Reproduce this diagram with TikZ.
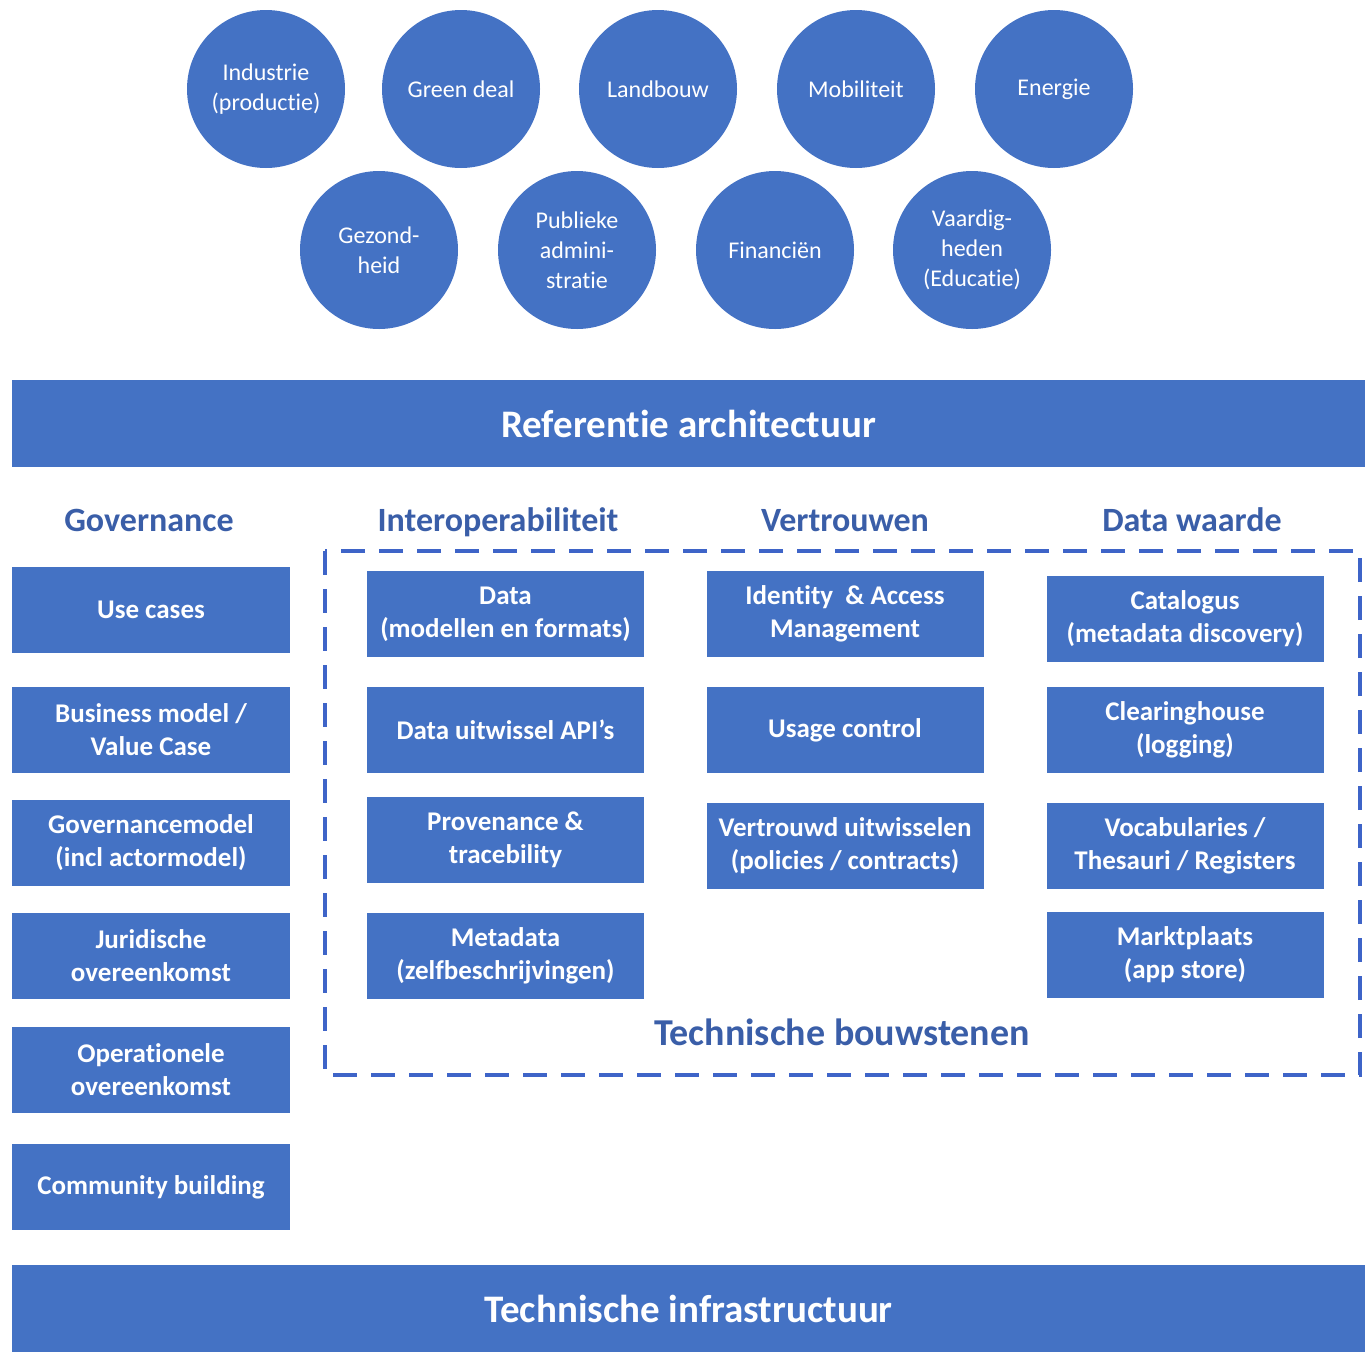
\documentclass[tikz,border=0pt]{standalone}
\usepackage{fontspec}
\setmainfont{Carlito}[Ligatures=NoCommon]
\definecolor{officeblue}{RGB}{68,114,196}
\definecolor{headblue}{RGB}{58,94,168}
\definecolor{dashblue}{RGB}{62,100,200}

\begin{document}
\begin{tikzpicture}[x=1pt,y=-1pt,
  sector/.style={circle,fill=officeblue,text=white,minimum size=158pt,inner sep=0pt,
    align=center,font=\fontsize{24}{30}\selectfont},
  banner/.style={rectangle,fill=officeblue,text=white,minimum width=1353pt,minimum height=87pt,
    inner sep=0pt,font=\bfseries\fontsize{39}{46}\selectfont},
  blok/.style={rectangle,fill=officeblue,text=white,minimum width=277pt,minimum height=86pt,
    inner sep=0pt,align=center,font=\bfseries\fontsize{27}{33}\selectfont},
  kop/.style={text=headblue,inner sep=0pt,anchor=base,font=\bfseries\fontsize{34}{40}\selectfont},
  bouwrand/.style={draw=dashblue,line width=3.2pt,dash pattern=on 24pt off 14pt}]
\useasboundingbox (0,0) rectangle (1365,1355);
% sectoren
\node[sector] (ind) at (266,89) {Industrie\\(productie)};
\node[sector] (green) at (461,89) {Green deal};
\node[sector] (land) at (658,89) {Landbouw};
\node[sector] (mob) at (856,89) {Mobiliteit};
\node[sector] (ener) at (1054,89) {Energie};
\node[sector] (gez) at (379,250) {Gezond-\\heid};
\node[sector] (pub) at (577,250) {Publieke\\admini-\\stratie};
\node[sector] (fin) at (775,250) {Financiën};
\node[sector] (vaar) at (972,250) {Vaardig-\\heden\\(Educatie)};
%
\node[banner] (ref) at (688.5,423.5) {Referentie architectuur};
%
\node[kop] (gov) at (149,531) {Governance};
\node[kop] (inter) at (498,531) {Interoperabiliteit};
\node[kop] (vert) at (845,531) {Vertrouwen};
\node[kop] (waarde) at (1192,531) {Data waarde};
%
\draw[bouwrand] (325,551) rectangle (1360,1075);
\node[kop,font=\bfseries\fontsize{38}{44}\selectfont] (bouw) at (842,1045) {Technische bouwstenen};
%% governance
\node[blok,minimum width=278pt] (use) at (151,610) {Use cases};
\node[blok,minimum width=278pt] (bus) at (151,730) {Business model /\\Value Case};
\node[blok,minimum width=278pt] (govm) at (151,843) {Governancemodel\\(incl actormodel)};
\node[blok,minimum width=278pt] (jur) at (151,956) {Juridische\\overeenkomst};
\node[blok,minimum width=278pt] (oper) at (151,1070) {Operationele\\overeenkomst};
\node[blok,minimum width=278pt] (comm) at (151,1187) {Community building};
%% interoperabiliteit
\node[blok] (data) at (505.5,614) {Data\\(modellen en formats)};
\node[blok] (api) at (505.5,730) {Data uitwissel API’s};
\node[blok] (prov) at (505.5,840) {Provenance \&\\tracebility};
\node[blok] (meta) at (505.5,956) {Metadata\\(zelfbeschrijvingen)};
%% vertrouwen
\node[blok] (iam) at (845,614) {Identity\ \ \& Access\\Management};
\node[blok] (usage) at (845,730) {Usage control};
\node[blok] (vuit) at (845,846) {Vertrouwd uitwisselen\\(policies / contracts)};
%% data waarde
\node[blok] (cat) at (1185,619) {Catalogus\\(metadata discovery)};
\node[blok] (clear) at (1185,730) {Clearinghouse\\(logging)};
\node[blok] (voc) at (1185,846) {Vocabularies /\\Thesauri / Registers};
\node[blok] (markt) at (1185,955) {Marktplaats\\(app store)};
%%
\node[banner] (infra) at (688.5,1308.5) {Technische infrastructuur};
\end{tikzpicture}
\end{document}
